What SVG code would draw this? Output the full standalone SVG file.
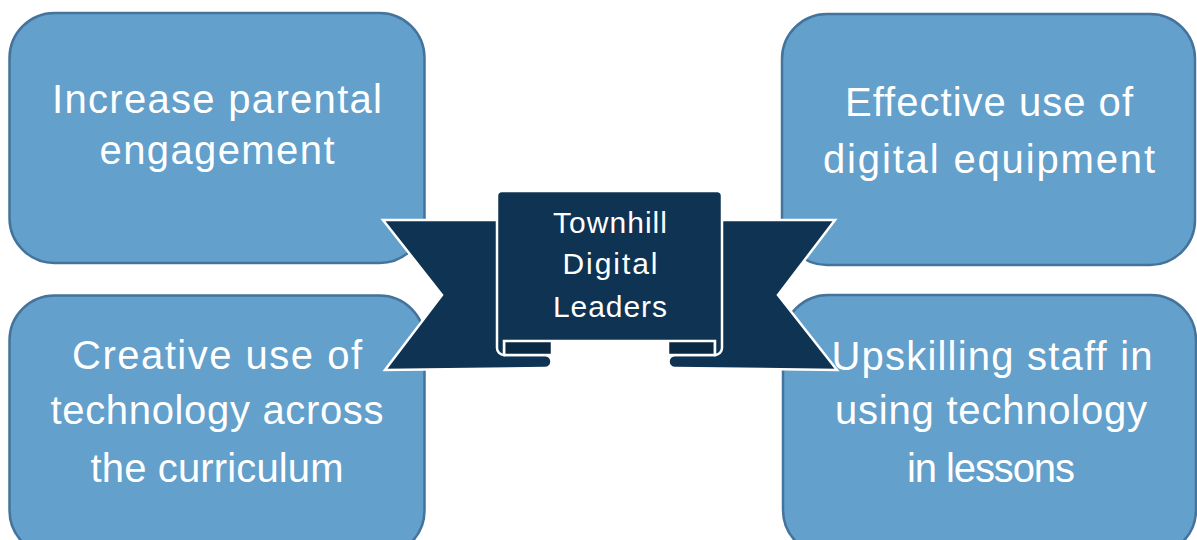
<svg xmlns="http://www.w3.org/2000/svg" width="1197" height="540" viewBox="0 0 1197 540">
<style>
.box{fill:#63a0cb;stroke:#44739c;stroke-width:2.5}
.t{font-family:"Liberation Sans",Arial,sans-serif;font-size:40px;fill:#ffffff;text-anchor:middle}
.rt{font-family:"Liberation Sans",Arial,sans-serif;font-size:30px;fill:#ffffff;text-anchor:middle}
.rib{fill:#0f3352;stroke:#ffffff;stroke-width:2.5;stroke-linejoin:miter}
.fold{fill:#0b2942;stroke:#ffffff;stroke-width:2.5}
</style>
<rect width="1197" height="540" fill="#ffffff"/>
<g id="node-parental">
<rect class="box" x="9.5" y="13" width="415" height="250" rx="45" ry="45"/>
<text class="t" x="217" y="113" textLength="330" lengthAdjust="spacing">Increase parental</text>
<text class="t" x="217" y="164" textLength="235" lengthAdjust="spacing">engagement</text>
</g>
<g id="node-equipment">
<rect class="box" x="782" y="14" width="413" height="251" rx="45" ry="45"/>
<text class="t" x="989" y="116" textLength="288" lengthAdjust="spacing">Effective use of</text>
<text class="t" x="989" y="173" textLength="332" lengthAdjust="spacing">digital equipment</text>
</g>
<g id="node-creative">
<rect class="box" x="9.5" y="295.5" width="415" height="260" rx="45" ry="45"/>
<text class="t" x="217" y="369" textLength="290" lengthAdjust="spacing">Creative use of</text>
<text class="t" x="217" y="424" textLength="333" lengthAdjust="spacing">technology across</text>
<text class="t" x="217" y="482" textLength="253" lengthAdjust="spacing">the curriculum</text>
</g>
<g id="node-upskilling">
<rect class="box" x="783" y="295" width="413" height="260" rx="45" ry="45"/>
<text class="t" x="992" y="370" textLength="321" lengthAdjust="spacing">Upskilling staff in</text>
<text class="t" x="991" y="424" textLength="312" lengthAdjust="spacing">using technology</text>
<text class="t" x="991" y="482" textLength="168" lengthAdjust="spacing">in lessons</text>
</g>
<g id="node-ribbon">
<path class="rib" d="M383,220 L505,220 L505,355 L545,355 A6.5,6.5 0 0 1 545,368 L385,370 L442,295 Z"/>
<path class="rib" d="M835,220 L715,220 L715,355 L675,355 A6.5,6.5 0 0 0 675,368 L837,370 L778,295 Z"/>
<rect class="fold" x="504" y="330" width="48" height="25"/>
<rect class="fold" x="668" y="330" width="47" height="25"/>
<path class="rib" d="M497,348 L497,196 Q497,191 502,191 L717,191 Q722,191 722,196 L722,348 A7,7 0 0 1 715,355 L715,341 L504,341 L504,355 A7,7 0 0 1 497,348 Z"/>
<text class="rt" x="610" y="233" textLength="114" lengthAdjust="spacing">Townhill</text>
<text class="rt" x="610" y="274" textLength="95" lengthAdjust="spacing">Digital</text>
<text class="rt" x="610" y="317" textLength="114" lengthAdjust="spacing">Leaders</text>
</g>
<g id="connectors"/>
</svg>
